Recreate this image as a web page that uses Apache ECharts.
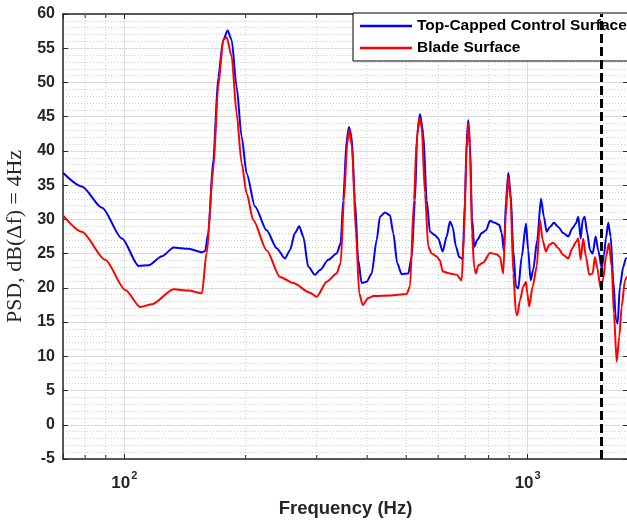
<!DOCTYPE html>
<html>
<head>
<meta charset="utf-8">
<script src="https://cdn.jsdelivr.net/npm/echarts/dist/echarts.min.js"></script>
<style>
  html, body { margin: 0; padding: 0; background: #fff; }
  #chart { width: 627px; height: 523px; }
</style>
</head>
<body>
<div id="chart"></div>
<script>
// Power spectral density of the two surface pressure signals (dB, 4 Hz bins)
const blueFreq = [70.5, 78.5, 88.1, 98.7, 108.6, 115, 124, 132.6, 144.4, 155.8, 158.7, 161.5, 166.2, 171, 175.9, 180.4, 184.6, 189.9, 195.4, 201.1, 210.9, 225.4, 238.7, 250.2, 257.5, 264.9, 271.5, 277.8, 285.8, 297, 305.6, 320.4, 336.1, 343.9, 349, 355.9, 360.6, 366.2, 373.1, 380.2, 387.7, 398.9, 410.5, 422.4, 430.4, 442.9, 455.7, 464.3, 475.1, 487.1, 505.9, 515.8, 525.6, 532.5, 540.8, 551.1, 561.9, 572.6, 589.2, 600.4, 615.6, 629.9, 641.8, 651.8, 664.2, 676.8, 690.1, 699.2, 706, 712.5, 719.5, 727.7, 737.3, 750.1, 769.1, 788.3, 806.5, 829.8, 850.4, 862.2, 873.5, 883.6, 895.2, 907.6, 921.1, 935.4, 947.8, 966.4, 990.4, 1003, 1017, 1032, 1056, 1079, 1097, 1114, 1136, 1162, 1191, 1225, 1261, 1290, 1317, 1335, 1353, 1369, 1384, 1405, 1427, 1449, 1474, 1496, 1526, 1546, 1563, 1584, 1606, 1630, 1655, 1671, 1693, 1726, 1752, 1814];
const blueDb = [36.8, 34.8, 31.7, 27.2, 23.2, 23.3, 24.6, 25.9, 25.7, 25.2, 25.4, 28.0, 38.7, 50.8, 56.2, 57.6, 56.2, 49.4, 42.1, 36.7, 31.9, 28.4, 25.8, 24.3, 25.5, 28.0, 29.0, 27.5, 23.1, 21.9, 22.6, 24.1, 25.0, 26.5, 32.8, 41.6, 43.5, 42.1, 32.8, 24.1, 20.7, 20.9, 22.1, 27.0, 30.4, 31.0, 30.6, 28.0, 23.6, 22.0, 22.1, 24.5, 32.8, 42.6, 45.4, 42.6, 32.8, 28.2, 27.7, 27.2, 25.3, 27.5, 29.7, 28.9, 26.0, 24.5, 24.2, 32.8, 41.6, 44.5, 41.1, 30.4, 26.0, 27.0, 28.0, 28.4, 29.8, 29.5, 29.2, 28.0, 25.3, 32.8, 36.8, 33.8, 25.5, 20.2, 19.9, 24.5, 29.4, 25.5, 21.1, 22.6, 27.0, 33.0, 30.4, 28.2, 28.9, 29.5, 28.9, 28.0, 27.5, 28.7, 29.4, 30.4, 27.2, 29.9, 30.4, 28.0, 25.5, 25.0, 27.5, 25.5, 22.9, 24.8, 27.2, 29.5, 27.5, 21.1, 15.3, 14.8, 20.2, 23.1, 24.3, 25.0];

const redFreq = [70.5, 78.5, 89.7, 100.6, 109.6, 117.1, 132.6, 144.4, 155.8, 160, 166.2, 171, 175.9, 179.4, 184.6, 189.9, 195.4, 201.1, 208.8, 225.4, 243.2, 262.4, 288.6, 299.9, 317.5, 336.1, 343.9, 350.4, 357.1, 361.2, 366.8, 375.3, 382.4, 389.9, 402.6, 414.2, 455.7, 501.3, 510.8, 522.6, 530.7, 538.7, 546.1, 556.5, 567, 578.2, 594.9, 606.2, 615.6, 641.8, 666.9, 686.2, 695.3, 706, 712.5, 719.5, 727.7, 737.3, 744.5, 754.4, 776.2, 806.5, 837.9, 853.8, 869.9, 881.9, 895.2, 907.6, 921.1, 935.4, 942.4, 957.1, 975.3, 990.4, 997.7, 1009, 1029, 1053, 1073, 1089, 1110, 1131, 1157, 1191, 1225, 1261, 1290, 1317, 1335, 1353, 1373, 1395, 1421, 1449, 1468, 1488, 1517, 1540, 1563, 1590, 1615, 1636, 1662, 1687, 1710, 1742, 1762, 1814];
const redDb = [30.6, 28.2, 24.1, 19.7, 17.2, 17.6, 19.8, 19.6, 19.2, 25.1, 37.2, 49.4, 56.2, 56.6, 53.8, 45.5, 38.2, 33.8, 29.9, 25.5, 21.6, 20.7, 19.3, 18.7, 20.9, 22.1, 23.6, 32.8, 41.1, 43.1, 40.6, 28.0, 19.2, 17.5, 18.5, 18.8, 18.9, 19.1, 20.2, 32.8, 41.6, 44.8, 43.5, 33.8, 26.0, 25.0, 24.6, 24.0, 22.4, 22.1, 21.9, 21.1, 28.0, 40.1, 44.0, 40.1, 28.0, 22.9, 22.1, 23.3, 23.7, 25.1, 24.9, 24.5, 22.1, 30.4, 36.2, 32.8, 22.1, 16.3, 16.0, 18.2, 20.2, 20.9, 19.2, 17.3, 20.2, 23.1, 29.9, 27.0, 25.3, 26.3, 26.6, 25.8, 24.8, 24.3, 25.8, 26.7, 27.2, 24.1, 27.2, 24.5, 21.9, 22.1, 24.5, 22.9, 19.9, 21.4, 24.5, 26.5, 23.1, 16.3, 9.2, 12.9, 17.2, 21.1, 21.6, 22.0];

const seriesNames = ['Top-Capped Control Surface', 'Blade Surface'];
const minorFreqs = [80, 90, 200, 300, 400, 500, 600, 700, 800, 900];
const cutoffFreq = 1525;
const xRange = [70.5, 1773];
const yRange = [-5, 60];
const yStep = 5;

const axisColor = '#262626';
const labelFont = 'Liberation Sans, Arial, Helvetica, sans-serif';

const chart = echarts.init(document.getElementById('chart'), null, { renderer: 'canvas' });

function powerLabel(v) {
  const e = Math.log10(v);
  if (Math.abs(e - Math.round(e)) > 1e-6) return '';
  return '{base|10}{sup|' + Math.round(e) + '}';
}

chart.setOption({
  animation: false,
  backgroundColor: '#fff',
  grid: { left: 63, right: -1, top: 14, bottom: 64, outerBoundsMode: 'none', containLabel: false },
  legend: {
    orient: 'vertical',
    left: 353,
    top: 13,
    padding: [5, 40, 5, 7],
    itemGap: 6,
    itemWidth: 52,
    itemHeight: 2.5,
    icon: 'rect',
    backgroundColor: '#fff',
    borderColor: '#000',
    borderWidth: 1,
    borderRadius: 0,
    textStyle: { fontFamily: labelFont, fontWeight: 'bold', fontSize: 15.5, lineHeight: 15, color: '#000' },
    data: seriesNames
  },
  xAxis: [{
    type: 'log',
    logBase: 10,
    min: xRange[0],
    max: xRange[1],
    name: 'Frequency (Hz)',
    nameLocation: 'middle',
    nameGap: 40,
    nameTextStyle: { fontFamily: labelFont, fontWeight: 'bold', fontSize: 18.5, color: axisColor },
    axisLine: { show: true, onZero: false, lineStyle: { color: axisColor, width: 1.5 } },
    axisTick: { show: true, inside: true, length: 5, lineStyle: { color: axisColor } },
    axisLabel: {
      formatter: powerLabel,
      margin: 11,
      color: axisColor,
      rich: {
        base: { fontSize: 17, fontWeight: 'bold', fontFamily: labelFont, color: axisColor, lineHeight: 22, verticalAlign: 'bottom' },
        sup: { fontSize: 11, fontWeight: 'bold', fontFamily: labelFont, color: axisColor, lineHeight: 22, verticalAlign: 'top', padding: [0, 0, 0, 1] }
      }
    },
    splitLine: { show: true, lineStyle: { color: '#dcdcdc', width: 1 } }
  }, {
    type: 'log',
    logBase: 10,
    position: 'top',
    min: xRange[0],
    max: xRange[1],
    axisLine: { show: true, onZero: false, lineStyle: { color: axisColor, width: 1.5 } },
    axisTick: { show: true, inside: true, length: 5, lineStyle: { color: axisColor } },
    axisLabel: { show: false },
    splitLine: { show: false }
  }],
  yAxis: [{
    type: 'value',
    min: yRange[0],
    max: yRange[1],
    interval: yStep,
    name: 'PSD, dB(Δf) = 4Hz',
    nameLocation: 'middle',
    nameGap: 30,
    nameRotate: 90,
    nameTextStyle: { fontFamily: 'Liberation Serif, Times New Roman, serif', fontSize: 22, color: axisColor },
    axisLine: { show: true, onZero: false, lineStyle: { color: axisColor, width: 1.5 } },
    axisTick: { show: true, inside: true, length: 5, lineStyle: { color: axisColor } },
    axisLabel: { color: axisColor, fontFamily: labelFont, fontWeight: 'bold', fontSize: 16, margin: 8 },
    splitLine: { show: true, lineStyle: { color: '#dcdcdc', width: 1 } },
    minorTick: { show: false, splitNumber: 5 },
    minorSplitLine: { show: true, lineStyle: { color: '#cfcfcf', width: 1, type: [1, 2] } }
  }, {
    type: 'value',
    position: 'right',
    min: yRange[0],
    max: yRange[1],
    interval: yStep,
    axisLine: { show: true, onZero: false, lineStyle: { color: axisColor, width: 1.5 } },
    axisTick: { show: true, inside: true, length: 5, lineStyle: { color: axisColor } },
    axisLabel: { show: false },
    splitLine: { show: false }
  }],
  series: [{
    // dotted minor grid and minor ticks of the logarithmic frequency axis
    type: 'custom',
    silent: true,
    z: 1,
    data: minorFreqs.map(f => [f, yRange[0]]),
    renderItem: function (params, api) {
      const f = api.value(0);
      const b = api.coord([f, yRange[0]]);
      const t = api.coord([f, yRange[1]]);
      return {
        type: 'group',
        children: [
          { type: 'line', shape: { x1: b[0], y1: b[1], x2: t[0], y2: t[1] }, style: { stroke: '#cfcfcf', lineWidth: 1, lineDash: [1, 2] } },
          { type: 'line', shape: { x1: b[0], y1: b[1], x2: b[0], y2: b[1] - 4 }, style: { stroke: axisColor, lineWidth: 1 } },
          { type: 'line', shape: { x1: t[0], y1: t[1], x2: t[0], y2: t[1] + 4 }, style: { stroke: axisColor, lineWidth: 1 } }
        ]
      };
    }
  }, {
    name: seriesNames[0],
    type: 'line',
    data: blueFreq.map((f, i) => [f, blueDb[i]]),
    symbol: 'none',
    showSymbol: false,
    smooth: 0.25,
    smoothMonotone: 'x',
    z: 3,
    lineStyle: { color: '#0000ff', width: 2 },
    itemStyle: { color: '#0000ff' }
  }, {
    name: seriesNames[1],
    type: 'line',
    data: redFreq.map((f, i) => [f, redDb[i]]),
    symbol: 'none',
    showSymbol: false,
    smooth: 0.25,
    smoothMonotone: 'x',
    z: 4,
    lineStyle: { color: '#ff0000', width: 2 },
    itemStyle: { color: '#ff0000' },
    markLine: {
      silent: true,
      symbol: 'none',
      z: 6,
      label: { show: false },
      lineStyle: { color: '#000', width: 3, type: [9, 4] },
      data: [{ xAxis: cutoffFreq }]
    }
  }]
});
</script>
</body>
</html>
